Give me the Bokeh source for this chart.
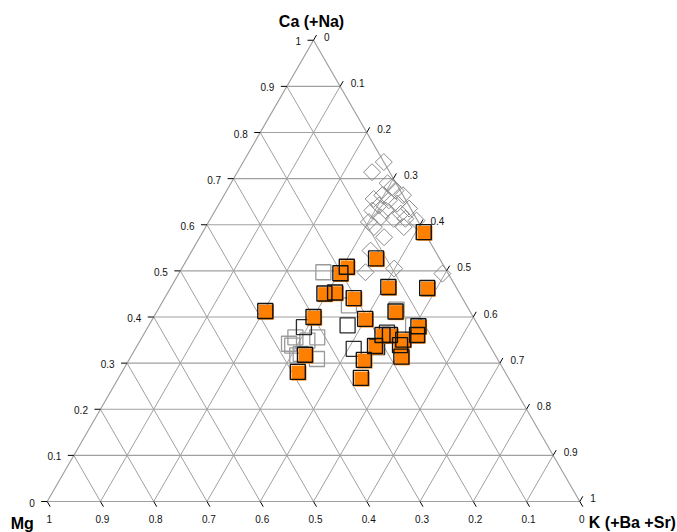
import numpy as np
from bokeh.plotting import figure
from bokeh.models import Range1d
from bokeh.core.properties import value
from bokeh.embed import file_html
from bokeh.resources import INLINE

# ---- axis ticks ----
tick_values = [0.0, 0.1, 0.2, 0.3, 0.4, 0.5, 0.6, 0.7, 0.8, 0.9, 1.0]
tick_labels = ["0", "0.1", "0.2", "0.3", "0.4", "0.5", "0.6", "0.7", "0.8", "0.9", "1"]
title_top = "Ca (+Na)"
title_left = "Mg"
title_right = "K (+Ba +Sr)"

# ---- data: Ca and K fractions (Mg = 1 - Ca - K) ----
diamond_ca = [0.736, 0.714, 0.682, 0.690, 0.674, 0.664, 0.664, 0.656, 0.653, 0.642,
              0.646, 0.631, 0.631, 0.624, 0.635, 0.616, 0.613, 0.613, 0.609, 0.606,
              0.573, 0.544, 0.595, 0.497, 0.505, 0.494, 0.595]
diamond_k = [0.264, 0.253, 0.307, 0.294, 0.317, 0.297, 0.336, 0.285, 0.315, 0.302,
             0.334, 0.295, 0.320, 0.352, 0.362, 0.318, 0.344, 0.366, 0.389, 0.301,
             0.346, 0.335, 0.316, 0.349, 0.399, 0.495, 0.372]

light_sq_ca = [0.497, 0.425, 0.338, 0.356, 0.309, 0.317, 0.349, 0.356, 0.416, 0.382, 0.342, 0.320]
light_sq_k = [0.270, 0.354, 0.291, 0.329, 0.352, 0.311, 0.314, 0.288, 0.448, 0.496, 0.283, 0.316]

dark_sq_ca = [0.331, 0.382, 0.378, 0.366, 0.335]
dark_sq_k = [0.410, 0.373, 0.293, 0.455, 0.452]

orange_ca = [0.584, 0.527, 0.509, 0.495, 0.465, 0.463, 0.451, 0.453, 0.441, 0.413,
             0.400, 0.396, 0.412, 0.380, 0.361, 0.361, 0.337, 0.351, 0.339, 0.361,
             0.307, 0.314, 0.318, 0.281, 0.268]
orange_k = [0.415, 0.354, 0.308, 0.303, 0.408, 0.482, 0.295, 0.314, 0.355, 0.203,
            0.300, 0.399, 0.448, 0.507, 0.449, 0.463, 0.447, 0.493, 0.493, 0.514,
            0.441, 0.508, 0.325, 0.330, 0.455]

H = np.sqrt(3) / 2
S = 532.6  # pixels per unit side


def tern(ca, k):
    ca = np.asarray(ca, dtype=float)
    k = np.asarray(k, dtype=float)
    return k + ca / 2, ca * H


W, HT = 677, 532
x0 = -46.7 / S
y1 = 501.0 / S
p = figure(width=W, height=HT, output_backend="svg", toolbar_location=None,
           x_range=Range1d(x0, x0 + W / S), y_range=Range1d(y1 - HT / S, y1),
           min_border=0, min_border_left=0, min_border_right=0,
           min_border_top=0, min_border_bottom=0)
p.xaxis.visible = False
p.yaxis.visible = False
p.grid.visible = False
p.outline_line_color = None
p.background_fill_color = "white"
p.border_fill_color = "white"

t = np.array(tick_values)
inner = t[1:-1]
grid_col = "#a0a0a0"

# horizontal (Ca) lines
p.segment(x0=inner / 2, y0=inner * H, x1=1 - inner / 2, y1=inner * H,
          line_color=grid_col, line_width=1.2)
# K lines (parallel to left edge)
p.segment(x0=inner, y0=inner * 0, x1=0.5 + inner / 2, y1=(1 - inner) * H,
          line_color=grid_col, line_width=1)
# Mg lines (parallel to right edge)
p.segment(x0=1 - inner, y0=inner * 0, x1=(1 - inner) / 2, y1=(1 - inner) * H,
          line_color=grid_col, line_width=1)
# triangle edges
p.line(x=[0, 1, 0.5, 0], y=[0, 0, H, 0], line_color=grid_col, line_width=1.2)

# ticks
L = 6.0 / S
lx, ly = t / 2, t * H
p.segment(x0=lx, y0=ly, x1=lx - L, y1=ly, line_color="black", line_width=1)
rx, ry = 0.5 + t / 2, (1 - t) * H
p.segment(x0=rx, y0=ry, x1=rx + 0.5 * L, y1=ry + H * L, line_color="black", line_width=1)
bx, by = 1 - t, t * 0
p.segment(x0=bx, y0=by, x1=bx + 0.5 * L, y1=by - H * L, line_color="black", line_width=1)

font = value("Liberation Sans")
p.text(x=lx, y=ly, text=tick_labels, text_font=font, text_font_size="10px",
       text_align="right", text_baseline="middle", x_offset=-12.5, y_offset=1,
       text_color="#111111")
p.text(x=rx, y=ry, text=tick_labels, text_font=font, text_font_size="10px",
       text_align="left", text_baseline="middle", x_offset=10.5, y_offset=-3.5,
       text_color="#111111")
p.text(x=bx, y=by, text=tick_labels, text_font=font, text_font_size="10px",
       text_align="center", text_baseline="middle", x_offset=2, y_offset=17,
       text_color="#111111")

# axis titles
p.text(x=[0.5], y=[H], text=[title_top], text_font=font, text_font_size="16px",
       text_font_style="bold", text_align="center", text_baseline="middle",
       x_offset=-2, y_offset=-19, text_color="black")
p.text(x=[0.0], y=[0.0], text=[title_left], text_font=font, text_font_size="16px",
       text_font_style="bold", text_align="center", text_baseline="middle",
       x_offset=-25, y_offset=22, text_color="black")
p.text(x=[1.0], y=[0.0], text=[title_right], text_font=font, text_font_size="16px",
       text_font_style="bold", text_align="left", text_baseline="middle",
       x_offset=9, y_offset=21, text_color="black")

# diamonds (hollow, gray)
dx, dy = tern(diamond_ca, diamond_k)
p.scatter(x=dx, y=dy, marker="square", angle=np.pi / 4, size=12,
          fill_color=None, line_color="#8a8a8a", line_width=1)

# hollow squares
sx, sy = tern(light_sq_ca, light_sq_k)
p.scatter(x=sx, y=sy, marker="square", size=15, fill_color=None,
          line_color="#9a9a9a", line_width=1.3)
kx, ky = tern(dark_sq_ca, dark_sq_k)
p.scatter(x=kx, y=ky, marker="square", size=15, fill_color=None,
          line_color="#2a2a2a", line_width=1.3)

# orange filled squares with offset black outline
ox, oy = tern(orange_ca, orange_k)
off = 1.2 / S
p.scatter(x=ox + off, y=oy - off, marker="square", size=15,
          fill_color="#ff8000", line_color=None)
p.scatter(x=ox, y=oy, marker="square", size=15, fill_color=None,
          line_color="#111111", line_width=1.4)

open("out.html", "w").write(file_html(p, INLINE))
